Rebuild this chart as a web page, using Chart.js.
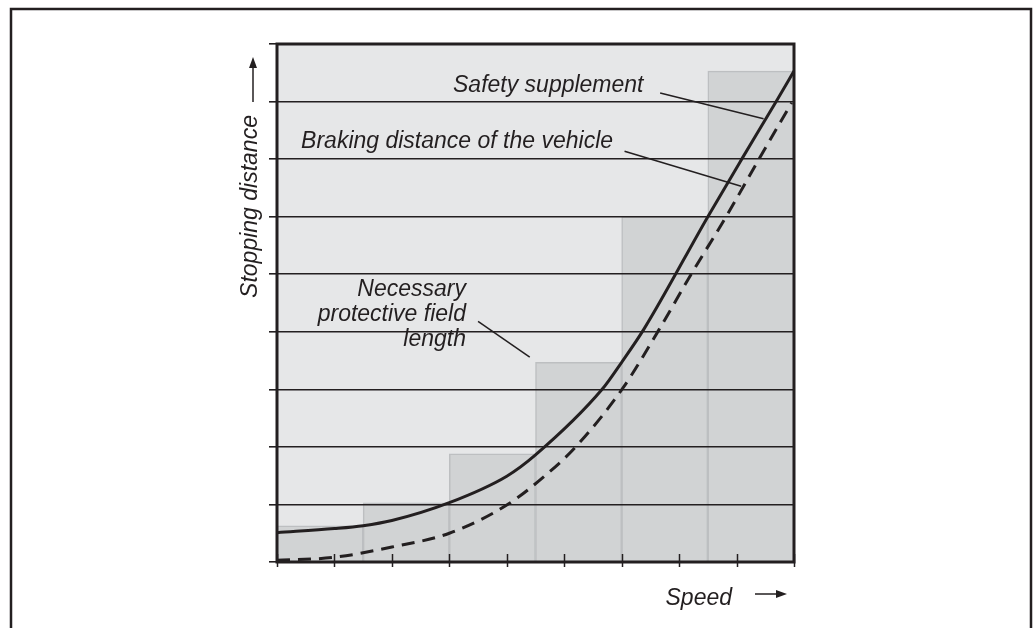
<!DOCTYPE html>
<html>
<head>
<meta charset="utf-8">
<title>Stopping distance and speed</title>
<script src="https://cdn.jsdelivr.net/npm/chart.js@4.4.0/dist/chart.umd.min.js"></script>
<style>
  html, body { margin: 0; padding: 0; background: #fff; }
</style>
</head>
<body>
<canvas id="chart" width="1036" height="628"></canvas>
<script>
// axis tick positions (no labels are printed)
const speedTicks = [0, 1, 2, 3, 4, 5, 6, 7, 8, 9];
const distanceTicks = [0, 1, 2, 3, 4, 5, 6, 7, 8, 9];

// protective field length per speed band (steps)
const bands = ['1', '2', '3', '4', '5', '6'];
const fieldLength = [0.63, 1.03, 1.88, 3.47, 6.0, 8.53];

// necessary protective field length (solid curve)
const stopSpeed = [0, 1, 1.5, 2, 3, 4, 4.5, 5.66, 6, 6.39, 7.5, 8.09, 8.69, 9];
const stopDist = [0.51, 0.58, 0.63, 0.72, 1.03, 1.49, 1.86, 3.0, 3.47, 4.05, 6.0, 7.0, 8.0, 8.53];

// braking distance of the vehicle (dashed curve)
const brakeSpeed = [0, 0.98, 2, 3, 4, 4.69, 5.2, 6.02, 6.64, 7.21, 7.83, 8.39, 8.96];
const brakeDist = [0.03, 0.08, 0.26, 0.5, 0.99, 1.52, 2.0, 3.02, 4.02, 5.0, 6.02, 7.0, 7.98];

const INK = '#231f20';
const FONT = 'italic 23px "Liberation Sans", Arial, sans-serif';

// callout texts, anchored in data units (text right edge / baseline, leader line ends)
const callouts = [
  { lines: ['Safety supplement'], x: 6.38, y: 8.17, lead: [[6.67, 8.15], [8.47, 7.70]] },
  { lines: ['Braking distance of the vehicle'], x: 5.85, y: 7.195, lead: [[6.05, 7.136], [8.08, 6.527]] },
  { lines: ['Necessary', 'protective field', 'length'], x: 3.29, y: 4.614, lead: [[3.50, 4.179], [4.40, 3.56]] }
];

const toXY = (xs, ys) => xs.map((x, i) => ({ x, y: ys[i] }));

function arrow(ctx, x1, y1, x2, y2) {
  const ang = Math.atan2(y2 - y1, x2 - x1);
  const len = 11, half = 4;
  ctx.beginPath();
  ctx.moveTo(x1, y1);
  ctx.lineTo(x2 - Math.cos(ang) * len, y2 - Math.sin(ang) * len);
  ctx.stroke();
  ctx.beginPath();
  ctx.moveTo(x2, y2);
  ctx.lineTo(x2 - Math.cos(ang) * len - Math.sin(ang) * half, y2 - Math.sin(ang) * len + Math.cos(ang) * half);
  ctx.lineTo(x2 - Math.cos(ang) * len + Math.sin(ang) * half, y2 - Math.sin(ang) * len - Math.cos(ang) * half);
  ctx.closePath();
  ctx.fill();
}

const decor = {
  id: 'decor',
  beforeDraw(chart) {
    const { ctx, chartArea: a } = chart;
    ctx.save();
    ctx.fillStyle = '#e6e7e8';
    ctx.fillRect(a.left, a.top, a.right - a.left, a.bottom - a.top);
    ctx.restore();
  },
  afterDraw(chart) {
    const { ctx, chartArea: a, scales } = chart;
    const sx = scales.x, sy = scales.y;
    ctx.save();
    ctx.strokeStyle = INK;
    ctx.fillStyle = INK;

    // page frame
    ctx.lineWidth = 2.5;
    ctx.strokeRect(11, 9, chart.width - 16, chart.height + 20);

    // plot frame
    ctx.lineWidth = 3;
    ctx.strokeRect(a.left, a.top, a.right - a.left, a.bottom - a.top);

    // speed ticks cross the bottom axis
    ctx.lineWidth = 1.5;
    speedTicks.forEach(v => {
      const px = Math.round(sx.getPixelForValue(v)) + 0.5;
      ctx.beginPath();
      ctx.moveTo(px, a.bottom - 8);
      ctx.lineTo(px, a.bottom + 5);
      ctx.stroke();
    });

    // callouts
    ctx.font = FONT;
    ctx.textAlign = 'right';
    ctx.textBaseline = 'alphabetic';
    callouts.forEach(c => {
      const tx = sx.getPixelForValue(c.x);
      const ty = sy.getPixelForValue(c.y);
      c.lines.forEach((t, i) => ctx.fillText(t, tx, ty + i * 25));
      ctx.beginPath();
      ctx.moveTo(sx.getPixelForValue(c.lead[0][0]), sy.getPixelForValue(c.lead[0][1]));
      ctx.lineTo(sx.getPixelForValue(c.lead[1][0]), sy.getPixelForValue(c.lead[1][1]));
      ctx.stroke();
    });

    // axis titles with arrows
    ctx.fillText('Speed', a.right - 62, a.bottom + 43);
    arrow(ctx, a.right - 39, a.bottom + 32, a.right - 7, a.bottom + 32);

    ctx.save();
    ctx.translate(a.left - 20.5, a.top + 162.5);
    ctx.rotate(-Math.PI / 2);
    ctx.textAlign = 'center';
    ctx.fillText('Stopping distance', 0, 0);
    ctx.restore();
    arrow(ctx, a.left - 24, a.top + 58, a.left - 24, a.top + 13);

    ctx.restore();
  }
};

new Chart(document.getElementById('chart'), {
  type: 'bar',
  data: {
    labels: bands,
    datasets: [
      {
        type: 'bar',
        label: 'Protective field',
        data: fieldLength,
        xAxisID: 'xb',
        backgroundColor: '#d1d3d4',
        borderColor: '#bdbfc1',
        borderWidth: 1.5,
        borderSkipped: 'start',
        grouped: false,
        categoryPercentage: 1,
        barPercentage: 1,
        order: 3
      },
      {
        type: 'line',
        label: 'Necessary protective field length',
        data: toXY(stopSpeed, stopDist),
        xAxisID: 'x',
        borderColor: INK,
        borderWidth: 3,
        pointRadius: 0,
        cubicInterpolationMode: 'monotone',
        fill: false,
        order: 1
      },
      {
        type: 'line',
        label: 'Braking distance of the vehicle',
        data: toXY(brakeSpeed, brakeDist),
        xAxisID: 'x',
        borderColor: INK,
        borderWidth: 3,
        borderDash: [13, 8],
        pointRadius: 0,
        cubicInterpolationMode: 'monotone',
        fill: false,
        order: 2
      }
    ]
  },
  options: {
    responsive: false,
    animation: false,
    events: [],
    layout: { padding: { left: 269, right: 242, top: 44, bottom: 66 } },
    plugins: { legend: { display: false }, tooltip: { enabled: false } },
    scales: {
      x: {
        type: 'linear',
        min: 0,
        max: 9,
        offset: false,
        afterBuildTicks: s => { s.ticks = speedTicks.map(v => ({ value: v })); },
        ticks: { display: false },
        grid: { display: false, drawTicks: false, tickLength: 0, offset: false },
        border: { display: false }
      },
      xb: {
        type: 'category',
        labels: bands,
        offset: true,
        display: false
      },
      y: {
        type: 'linear',
        min: 0,
        max: 9,
        afterBuildTicks: s => { s.ticks = distanceTicks.map(v => ({ value: v })); },
        ticks: { display: false },
        grid: { color: INK, lineWidth: 1.6, tickLength: 8, drawTicks: true, z: 1 },
        border: { display: false }
      }
    }
  },
  plugins: [decor]
});
</script>
</body>
</html>
